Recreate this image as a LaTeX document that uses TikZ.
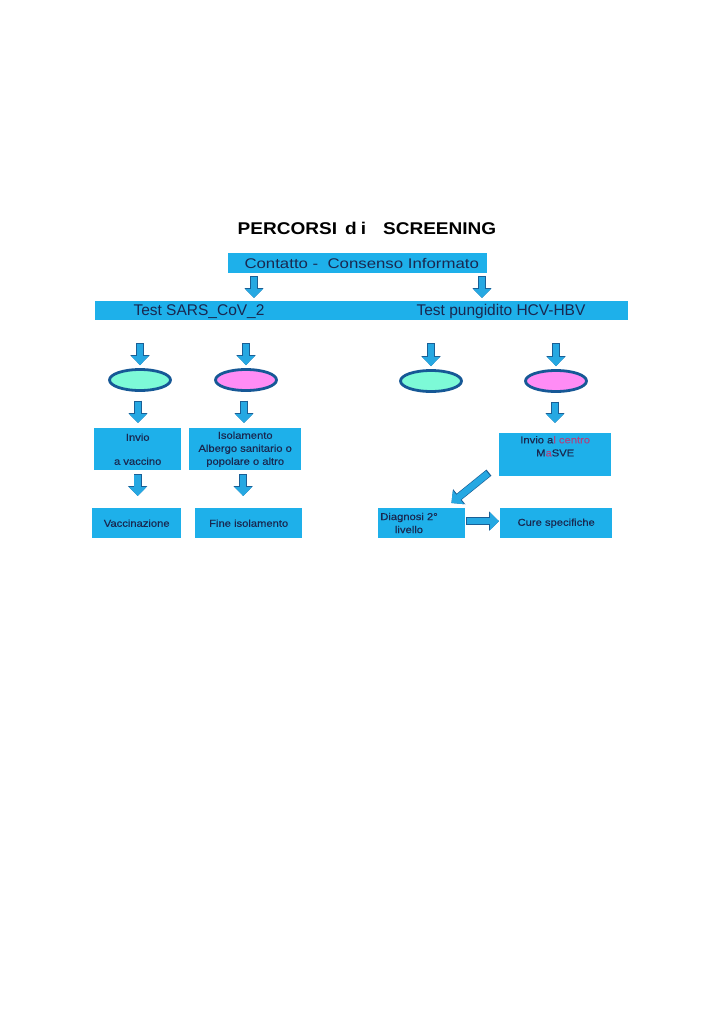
\documentclass[tikz,border=0pt]{standalone}
\usepackage{fontspec}
\setmainfont{Liberation Sans}
\newfontfamily\wfont[FakeStretch=1.2]{Liberation Sans}
\newfontfamily\bfont[FakeStretch=1.12,FakeBold=0.4]{Liberation Sans}
\newfontfamily\tfont[FakeStretch=1.12]{Liberation Sans}
\usetikzlibrary{shapes.geometric,arrows.meta,calc}
\definecolor{boxblue}{RGB}{30,176,234}
\definecolor{arrowfill}{RGB}{38,168,226}
\definecolor{arrowdark}{RGB}{25,95,150}
\definecolor{ellline}{RGB}{22,88,150}
\definecolor{mint}{RGB}{125,250,215}
\definecolor{pinkv}{RGB}{255,140,245}
\definecolor{navy}{RGB}{25,40,80}
\definecolor{mauve}{RGB}{170,70,130}
\begin{document}
\begin{tikzpicture}[x=1pt,y=-1pt,
 box/.style={fill=boxblue, anchor=north west, inner sep=0pt, text=navy, align=center, font=\bfont\fontsize{10}{13}\selectfont},
 oval/.style={ellipse, draw=ellline, line width=2.8pt, minimum width=61pt, minimum height=21pt, inner sep=0pt},
 bigtext/.style={text=navy, inner sep=0pt},
 barrow/.style={draw=arrowfill, line width=6.5pt, -{Triangle[width=17pt,length=9pt]},
   preaction={draw=arrowdark, line width=7.8pt, shorten <=-1.2pt, -{Triangle[width=18.8pt,length=10pt]}}},
]
\useasboundingbox (0,0) rectangle (724,1024);
\fill[white] (0,0) rectangle (724,1024);

\node[font=\tfont\bfseries\fontsize{17}{20}\selectfont, inner sep=0pt] (title) at (367,228)
  {PERCORSI\hspace{8pt}d\hspace{4pt}i\hspace{17pt}SCREENING};

\node[box, minimum width=259pt, minimum height=20pt, font=\wfont\fontsize{14}{16}\selectfont] (contatto) at (228,253)
  {\hspace{8pt}Contatto -\ \ Consenso Informato};

\node[box, minimum width=533pt, minimum height=19pt] (bar) at (95,301) {};
\node[bigtext, font=\fontsize{15.5}{17}\selectfont] (sars) at (199,311.5) {Test SARS\_CoV\_2};
\node[bigtext, font=\fontsize{15.5}{17}\selectfont] (hcv) at (501,311.5) {Test pungidito HCV-HBV};

\node[oval, fill=mint] (e1) at (140,380) {};
\node[oval, fill=pinkv] (e2) at (246,380) {};
\node[oval, fill=mint] (e3) at (431,381) {};
\node[oval, fill=pinkv] (e4) at (556,381) {};

\node[box, minimum width=87pt, minimum height=42pt] (invio) at (94,428) {Invio\\[11pt]a vaccino};
\node[box, minimum width=112pt, minimum height=42pt] (isol) at (189,428) {Isolamento\\Albergo sanitario o\\popolare o altro};
\node[box, minimum width=89pt, minimum height=30pt] (vacc) at (92,508) {Vaccinazione};
\node[box, minimum width=107pt, minimum height=30pt] (fine) at (195,508) {Fine isolamento};
\node[box, minimum width=112pt, minimum height=43pt] (masve) at (499,433)
  {Invio a\textcolor{mauve}{l centro}\\M\textcolor{mauve}{a}SVE\\\strut};
\node[box, minimum width=87pt, minimum height=30pt] (diag) at (378,508) {};
\node[text=navy, align=center, inner sep=0pt, font=\bfont\fontsize{10}{13}\selectfont] (diagt) at (409,523) {Diagnosi 2°\\livello};
\node[box, minimum width=112pt, minimum height=30pt] (cure) at (500,508) {Cure specifiche};

% arrows
\draw[barrow] ($(contatto.south west)+(26,4)$) -- ($(contatto.south west |- bar.north)+(26,-3)$);
\draw[barrow] ($(contatto.south west)+(254,4)$) -- ($(contatto.south west |- bar.north)+(254,-3)$);
\foreach \e in {e1,e2,e3,e4}{
  \draw[barrow] ($(bar.south -| \e)+(0,24)$) -- ($(\e.north)+(0,-3)$);
}
\draw[barrow] ($(e1.south)+(-2,10)$) -- ($(e1.south |- invio.north)+(-2,-5)$);
\draw[barrow] ($(e2.south)+(-2,10)$) -- ($(e2.south |- isol.north)+(-2,-5)$);
\draw[barrow] ($(e4.south)+(-1,10)$) -- ($(e4.south |- masve.north)+(-1,-10)$);
\draw[barrow] ($(invio.south)+(0,5)$) -- ($(invio.south |- vacc.north)+(0,-12)$);
\draw[barrow] ($(isol.south)+(-2,5)$) -- ($(isol.south |- fine.north)+(-2,-12)$);
\draw[barrow] ($(masve.south west)+(-11,-3)$) -- ($(diag.north east)+(-14,-5)$);
\draw[barrow] ($(diag.east)+(2,-2)$) -- ($(cure.west)+(-1,-2)$);
\end{tikzpicture}
\end{document}
